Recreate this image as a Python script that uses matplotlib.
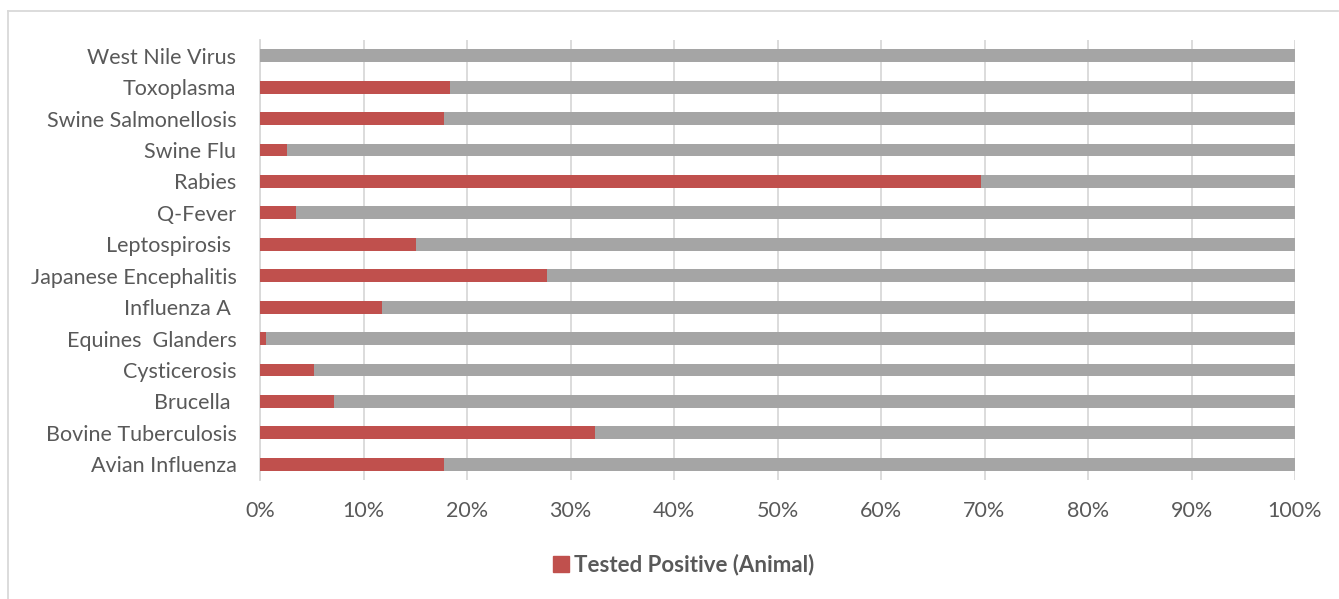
import matplotlib.pyplot as plt
from matplotlib.lines import Line2D
from matplotlib.patches import Patch
import numpy as np

# data (bottom to top)
diseases = ["Avian Influenza", "Bovine Tuberculosis", "Brucella ", "Cysticerosis",
            "Equines  Glanders", "Influenza A ", "Japanese Encephalitis", "Leptospirosis ",
            "Q-Fever", "Rabies", "Swine Flu", "Swine Salmonellosis", "Toxoplasma",
            "West Nile Virus"]
positive_pct = [17.8, 32.4, 7.15, 5.2, 0.55, 11.8, 27.7, 15.1, 3.5, 69.7, 2.6, 17.8, 18.4, 0.0]
negative_pct = [100 - p for p in positive_pct]
x_ticks = list(range(0, 101, 10))
x_labels = [f"{t}%" for t in x_ticks]

RED = "#C0504D"
GRAY = "#A5A5A5"
TXT = "#595959"
FONT = "Lato"

W, H = 1339, 599
fig = plt.figure(figsize=(W / 100, H / 100), dpi=100)
ax = fig.add_axes([260 / W, 1 - 480 / H, (1295 - 260) / W, (480 - 40) / H])

y = np.arange(len(diseases))
ax.barh(y, positive_pct, height=0.41, color=RED, zorder=3)
ax.barh(y, negative_pct, left=positive_pct, height=0.41, color=GRAY, zorder=3)

ax.set_xlim(0, 100)
ax.set_ylim(-0.5, len(diseases) - 0.5)
ax.set_xticks(x_ticks)
ax.set_xticklabels(x_labels, fontsize=15.5, color=TXT, family=FONT)
ax.set_yticks(y)
ax.set_yticklabels(diseases, fontsize=15.5, color=TXT, family=FONT)
ax.tick_params(length=0)
ax.tick_params(axis="x", pad=15)
ax.tick_params(axis="y", pad=17)
ax.grid(axis="x", color="#D9D9D9", linewidth=1.3, zorder=0)
for s in ["top", "right", "bottom"]:
    ax.spines[s].set_visible(False)
ax.spines["left"].set_color("#D9D9D9")
ax.spines["left"].set_linewidth(1.3)

handles = [Patch(facecolor=RED, edgecolor=RED)]
fig.legend(handles, ["Tested Positive (Animal)"], loc="center", bbox_to_anchor=(684 / W, 1 - 565 / H),
           frameon=False, prop={"family": FONT, "size": 16, "weight": "bold"},
           labelcolor=TXT, handlelength=0.7, handleheight=0.7, handletextpad=0.25)

# chart frame (left and top edges visible)
fig.add_artist(Line2D([8 / W, 8 / W], [0, 1 - 11 / H], color="#D9D9D9", linewidth=1.3,
                      transform=fig.transFigure))
fig.add_artist(Line2D([8 / W, 1338 / W], [1 - 11 / H, 1 - 11 / H], color="#D9D9D9",
                      linewidth=1.3, transform=fig.transFigure))

fig.savefig("out.png", dpi=100)
